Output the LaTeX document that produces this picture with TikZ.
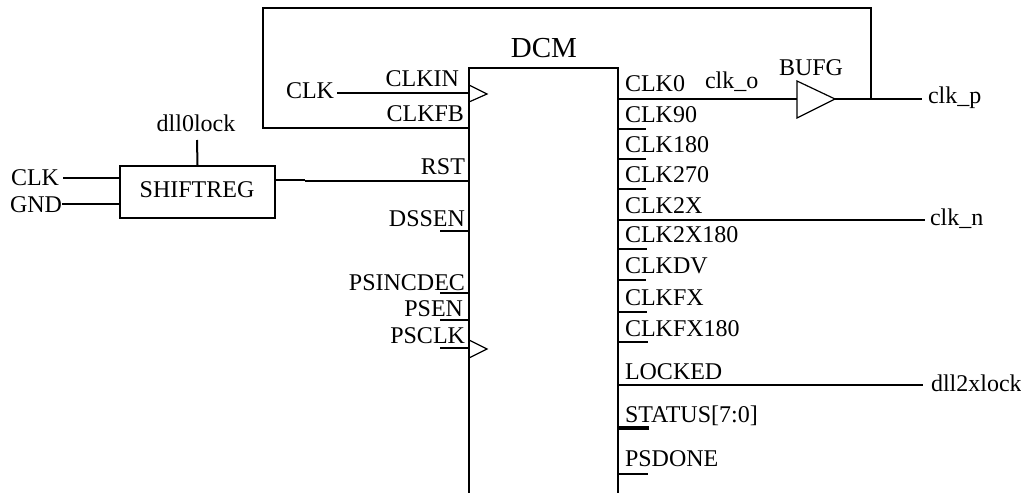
\documentclass[tikz,border=0pt]{standalone}
\usepackage{fontspec}
\setmainfont{Liberation Serif}
\tikzset{
  wire/.style={draw=black,line width=2pt},
  thin wire/.style={draw=black,line width=1.2pt},
  lab/.style={inner sep=0pt,outer sep=0pt,font=\fontsize{24}{26}\selectfont},
  labl/.style={lab,anchor=base west},
  labr/.style={lab,anchor=base east},
  labc/.style={lab,anchor=base},
  box/.style={draw=black,line width=2pt,inner sep=0pt,minimum width=155pt,minimum height=52pt,anchor=north west}
}
\begin{document}
\begin{tikzpicture}[x=1pt,y=-1pt]
\useasboundingbox (0,0) rectangle (1021,493);
% DCM block
\coordinate (bl) at (469,493);
\coordinate (tl) at (469,68);
\coordinate (tr) at (617.5,68);
\coordinate (br) at (617.5,493);
\draw[wire] (bl) -- (tl) -- (tr) -- (br);
\node[labc,font=\fontsize{29}{31}\selectfont] (dcm) at (544,57) {DCM};
% shift register
\node[box] (sr) at (119,165) {};
\node[labc] (srl) at (197,197) {SHIFTREG};
\node[labc] (dlock) at (196,131) {dll0lock};
\coordinate (srtop) at (197,140);
\draw[wire] (srtop) -- (sr.north);
\node[labr] (clka) at (59,185) {CLK};
\node[labr] (gnd) at (62,212) {GND};
\coordinate (sra) at (119,178);
\coordinate (srb) at (119,204);
\coordinate (clkae) at (63,178);
\coordinate (gnde) at (62,204);
\draw[wire] (clkae) -- (sra);
\draw[wire] (gnde) -- (srb);
% left pins
\node[labl] (clkb) at (286,98) {CLK};
\node[labr] (clkin) at (459,86) {CLKIN};
\node[labr] (clkfb) at (464,121) {CLKFB};
\node[labr] (rst) at (465,174) {RST};
\node[labr] (dssen) at (465,226) {DSSEN};
\node[labr] (psinc) at (465,290) {PSINCDEC};
\node[labr] (psen) at (463,316) {PSEN};
\node[labr] (psclk) at (465,343) {PSCLK};
\coordinate (clkbe) at (337,93);
\coordinate (pinin) at (469,93);
\draw[wire] (clkbe) -- (pinin);
\coordinate (tria) at (469,85);
\coordinate (trib) at (487,94);
\coordinate (tric) at (469,102);
\draw[thin wire] (tria) -- (trib) -- (tric);
\coordinate (trid) at (469,340);
\coordinate (trie) at (487,349);
\coordinate (trif) at (469,358);
\draw[thin wire] (trid) -- (trie) -- (trif);
\coordinate (rsta) at (305,181);
\coordinate (rstb) at (469,181);
\coordinate (rstc) at (274,180);
\coordinate (rstd) at (305,180);
\draw[wire] (rstc) -- (rstd);
\draw[wire] (rsta) -- (rstb);
\coordinate (dsa) at (440,231);
\coordinate (dsb) at (469,231);
\draw[wire] (dsa) -- (dsb);
\coordinate (pia) at (440,293);
\coordinate (pib) at (469,293);
\draw[wire] (pia) -- (pib);
\coordinate (pea) at (440,320);
\coordinate (peb) at (469,320);
\draw[wire] (pea) -- (peb);
\coordinate (pca) at (440,348);
\coordinate (pcb) at (469,348);
\draw[wire] (pca) -- (pcb);
% right pins
\foreach \n/\t/\b/\y/\e in {c0/CLK0/91/99/0,c90/CLK90/122/128.5/646,c180/CLK180/152/158.5/646,c270/CLK270/182/188.5/646,c2x/CLK2X/213/219.5/0,c2x180/CLK2X180/242/249/647,cdv/CLKDV/273/280/646,cfx/CLKFX/305/312/647,cfx180/CLKFX180/336/342/648,lck/LOCKED/379/385/0,psd/PSDONE/466/474/648}{
  \node[labl] (\n) at (625,\b) {\t};
  \coordinate (\n a) at (617.5,\y);
  \ifnum\e>0
    \coordinate (\n b) at (\e,\y);
    \draw[wire] (\n a) -- (\n b);
  \fi
}
\node[labl] (stat) at (625,422) {STATUS[7:0]};
\coordinate (sta) at (617.5,428);
\coordinate (stb) at (649,428);
\draw[draw=black,line width=4pt] (sta) -- (stb);
% buffer and nets
\node[labl] (clko) at (705,88) {clk\_o};
\node[labl] (bufg) at (779,75) {BUFG};
\coordinate (ba) at (797,81);
\coordinate (bb) at (835,99);
\coordinate (bc) at (797,118);
\coordinate (bi) at (797,99);
\draw[thin wire] (ba) -- (bb) -- (bc) -- cycle;
\draw[wire] (c0a) -- (bi);
\node[labl] (clkp) at (928,103) {clk\_p};
\node[labl] (clkn) at (930,225) {clk\_n};
\node[labl] (dll) at (931,391) {dll2xlock};
\coordinate (po) at (922,99);
\coordinate (no) at (925,219.5);
\coordinate (lo) at (923,385);
\draw[wire] (bb) -- (po);
\draw[wire] (c2xa) -- (no);
\draw[wire] (lcka) -- (lo);
% feedback loop
\coordinate (fa) at (469,128);
\coordinate (fb) at (263,128);
\coordinate (fc) at (263,8);
\coordinate (fd) at (871,8);
\coordinate (fe) at (871,99);
\draw[wire] (fa) -- (fb) -- (fc) -- (fd) -- (fe);
\end{tikzpicture}
\end{document}
